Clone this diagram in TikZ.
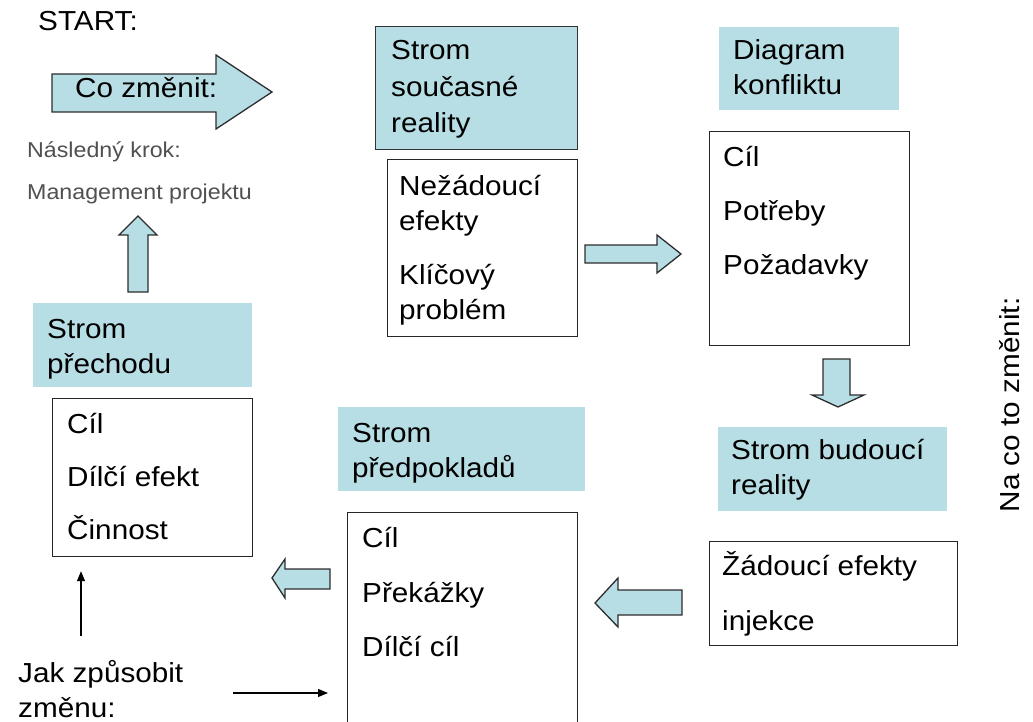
\documentclass[tikz,border=0pt]{standalone}
\usepackage{fontspec}
\setmainfont{Liberation Sans}[FakeStretch=1.08]
\usepackage{tikz}
\usetikzlibrary{arrows.meta, calc}
\definecolor{HeadTeal}{RGB}{183,222,228}
\definecolor{ArrowEdge}{RGB}{45,45,45}
\definecolor{NoteGray}{RGB}{80,80,80}

\begin{document}
\begin{tikzpicture}[x=1pt,y=-1pt,
        head/.style={fill=HeadTeal,anchor=north west,inner sep=0pt},
        wbox/.style={draw=black!85,line width=1.2pt,fill=white,anchor=north west,inner sep=0pt},
        txt/.style={anchor=base west,inner sep=0pt,align=left,
                    font=\fontsize{27.5}{35}\selectfont},
        note/.style={anchor=base west,inner sep=0pt,text=NoteGray,
                     font=\fontsize{21.5}{24}\selectfont},
        blk/.style={draw=ArrowEdge,fill=HeadTeal,line width=1.3pt,line join=miter},
        tarr/.style={-{Triangle[length=10pt,width=8pt]},line width=1.1pt}
      ]
        \useasboundingbox (0,0) rectangle (1033,722);
        \clip (0,0) rectangle (1033,722);
        \node[head,minimum width=219,minimum height=84]  (prechHead) at (33,303) {};
        \node[head,draw=black!80,line width=1.2pt,minimum width=202,minimum height=123] (curHead) at (375,26) {};
        \node[head,minimum width=180,minimum height=83]  (konfHead) at (719,27) {};
        \node[head,minimum width=229,minimum height=84]  (budHead) at (718,427) {};
        \node[head,minimum width=247,minimum height=84]  (predHead) at (338,407) {};
        \node[wbox,minimum width=200,minimum height=158] (prechBox) at (52,398) {};
        \node[wbox,minimum width=190,minimum height=177] (curBox) at (387,159) {};
        \node[wbox,minimum width=200,minimum height=214] (konfBox) at (709,131) {};
        \node[wbox,minimum width=248,minimum height=104] (budBox) at (709,541) {};
        \node[wbox,minimum width=230,minimum height=240] (predBox) at (347,512) {};
        % multi-line texts sit on the baseline of their last line
        \node[txt] (prechTitle) at (47,373)  {Strom\\přechodu};
        \node[txt,font=\fontsize{27.5}{36.5}\selectfont] (curTitle) at (391,133) {Strom\\současné\\reality};
        \node[txt] (konfTitle) at (733,95)  {Diagram\\konfliktu};
        \node[txt] (budTitle)  at (731,494) {Strom budoucí\\reality};
        \node[txt] (predTitle) at (352,477) {Strom\\předpokladů};
        \node[txt] (prechList) at (67,539)  {Cíl\\[18pt]Dílčí efekt\\[18pt]Činnost};
        \node[txt] (curList)   at (399,319) {Nežádoucí\\efekty\\[19pt]Klíčový\\problém};
        \node[txt] (konfList)  at (723,274) {Cíl\\[19pt]Potřeby\\[19pt]Požadavky};
        \node[txt] (budList)   at (722,630) {Žádoucí efekty\\[20pt]injekce};
        \node[txt] (predList)  at (362,656) {Cíl\\[20pt]Překážky\\[19pt]Dílčí cíl};
        \draw[blk] (52,74) -- (216,74) -- (216,55) -- (272,92) -- (216,129) -- (216,112) -- (52,112) -- cycle;
        \draw[blk] (128,292) -- (128,235) -- (119,235) -- (138,216) -- (157,235) -- (148,235) -- (148,292) -- cycle;
        \draw[blk] (585,245) -- (657,245) -- (657,235) -- (681,254) -- (657,273) -- (657,263) -- (585,263) -- cycle;
        \draw[blk] (823,359) -- (850,359) -- (850,395) -- (864,395) -- (838,407) -- (812,395) -- (823,395) -- cycle;
        \draw[blk] (682,590) -- (618,590) -- (618,578) -- (595,603) -- (618,627) -- (618,615) -- (682,615) -- cycle;
        \draw[blk] (330,569) -- (285,569) -- (285,559) -- (272,578) -- (285,598) -- (285,589) -- (330,589) -- cycle;
        \node[txt] (start)    at (38,31) {START:};
        \node[txt] (coZmenit) at (75,98) {Co změnit:};
        \node[note] (nasledny) at (27,158) {Následný krok:};
        \node[note] (mgmt)     at (27,200) {Management projektu};
        \node[txt] (jak) at (18,717) {Jak způsobit\\změnu:};
        \node[txt,anchor=base,rotate=90] (naCo) at (1019,405) {Na co to změnit:};
        \coordinate (jakUp) at (81,636);
        \coordinate (jakRight) at (233,693);
        \draw[tarr,shorten >=14pt] (jakUp) -- (jakUp |- prechBox.south);
        \draw[tarr,shorten >=19pt] (jakRight) -- (jakRight -| predBox.west);
      \end{tikzpicture}
\end{document}
